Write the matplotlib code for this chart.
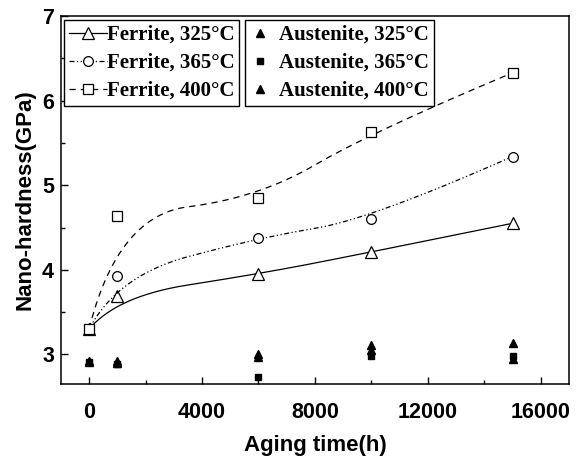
import matplotlib
matplotlib.use('Agg')
import matplotlib.pyplot as plt
from matplotlib.ticker import MultipleLocator
import numpy as np

# aging times (h)
hours = [0, 1000, 6000, 10000, 15000]

# ferrite nano-hardness (GPa)
ferrite_325 = [3.30, 3.69, 3.95, 4.21, 4.55]
ferrite_365 = [3.30, 3.93, 4.38, 4.60, 5.34]
ferrite_400 = [3.30, 4.64, 4.85, 5.63, 6.33]

# austenite nano-hardness (GPa)
austenite_325 = [2.92, 2.92, 3.00, 3.11, 3.13]
austenite_365 = [2.91, 2.88, 2.73, 2.98, 2.98]
austenite_400 = [2.91, 2.90, 2.97, 3.05, 2.95]

sans = 'Liberation Sans'
serif = 'Liberation Serif'


def bspline(x, y, n=400, k=2):
    # clamped B-spline using the measured points as control points
    pts = np.column_stack([x, y]).astype(float)
    m = len(pts)
    inner = np.linspace(0, 1, m - k + 1)[1:-1]
    knots = np.concatenate([np.zeros(k + 1), inner, np.ones(k + 1)])
    u = np.linspace(0, 1, n)
    u[-1] -= 1e-12
    N = np.zeros((n, len(knots) - 1))
    for i in range(len(knots) - 1):
        N[:, i] = (knots[i] <= u) & (u < knots[i + 1])
    for d in range(1, k + 1):
        Nn = np.zeros((n, len(knots) - 1 - d))
        for i in range(len(knots) - 1 - d):
            a = knots[i + d] - knots[i]
            b = knots[i + d + 1] - knots[i + 1]
            left = (u - knots[i]) / a * N[:, i] if a > 0 else 0
            right = (knots[i + d + 1] - u) / b * N[:, i + 1] if b > 0 else 0
            Nn[:, i] = left + right
        N = Nn
    curve = N @ pts
    return curve[:, 0], curve[:, 1]


fig = plt.figure(figsize=(5.8, 4.62), dpi=100)
ax = fig.add_axes([0.105, 0.169, 0.876, 0.796])

ferrite = [
    (ferrite_325, '-', '^', 8, 'Ferrite, 325°C'),
    (ferrite_365, (0, (4, 2, 1, 2, 1, 2)), 'o', 7, 'Ferrite, 365°C'),
    (ferrite_400, (0, (5, 4)), 's', 6.5, 'Ferrite, 400°C'),
]
handles1 = []
for vals, ls, mk, ms, lab in ferrite:
    cx, cy = bspline(hours, vals)
    ax.plot(cx, cy, color='black', lw=0.9, ls=ls)
    ax.plot(hours, vals, ls='none', marker=mk, ms=ms, mfc='white',
            mec='black', mew=0.9)
    h, = ax.plot([], [], color='black', lw=0.9, ls=ls, marker=mk, ms=ms,
                 mfc='white', mec='black', mew=0.9, label=lab)
    handles1.append(h)

handles2 = []
for vals, mk, ms, lab in [(austenite_325, '^', 6, 'Austenite, 325°C'),
                          (austenite_365, 's', 5, 'Austenite, 365°C'),
                          (austenite_400, '^', 6, 'Austenite, 400°C')]:
    h, = ax.plot(hours, vals, ls='none', marker=mk, ms=ms, color='black',
                 label=lab)
    handles2.append(h)

ax.set_xlim(-1000, 17000)
ax.set_ylim(2.65, 7)
ax.xaxis.set_major_locator(MultipleLocator(4000))
ax.xaxis.set_minor_locator(MultipleLocator(2000))
ax.yaxis.set_major_locator(MultipleLocator(1))
ax.yaxis.set_minor_locator(MultipleLocator(0.5))
ax.tick_params(which='both', direction='in', top=False, right=False)
ax.tick_params(which='major', length=5, width=1)
ax.tick_params(which='minor', length=3, width=1)
ax.tick_params(axis='x', pad=13)
ax.tick_params(axis='y', pad=5)
for s in ax.spines.values():
    s.set_linewidth(1.1)

for lbl in ax.get_xticklabels() + ax.get_yticklabels():
    lbl.set_fontfamily(sans)
    lbl.set_fontweight('bold')
    lbl.set_fontsize(15.5)
ax.set_xlabel('Aging time(h)', fontfamily=sans, fontweight='bold',
              fontsize=16, labelpad=9)
ax.set_ylabel('Nano-hardness(GPa)', fontfamily=sans, fontweight='bold',
              fontsize=16, labelpad=5)

legend_font = {'family': serif, 'weight': 'bold', 'size': 15}
leg1 = ax.legend(handles=handles1, loc='upper left',
                 bbox_to_anchor=(0.006, 0.99), prop=legend_font,
                 handlelength=1.8, handletextpad=0.0, labelspacing=0.38,
                 borderpad=0.25, borderaxespad=0, fancybox=False,
                 edgecolor='black', framealpha=1)
leg1.get_frame().set_linewidth(1)
ax.add_artist(leg1)
leg2 = ax.legend(handles=handles2, loc='upper left',
                 bbox_to_anchor=(0.362, 0.99), prop=legend_font,
                 handlelength=1.0, handletextpad=0.4, labelspacing=0.38,
                 borderpad=0.25, borderaxespad=0, fancybox=False,
                 edgecolor='black', framealpha=1)
leg2.get_frame().set_linewidth(1)

fig.savefig('out.png', dpi=100)
